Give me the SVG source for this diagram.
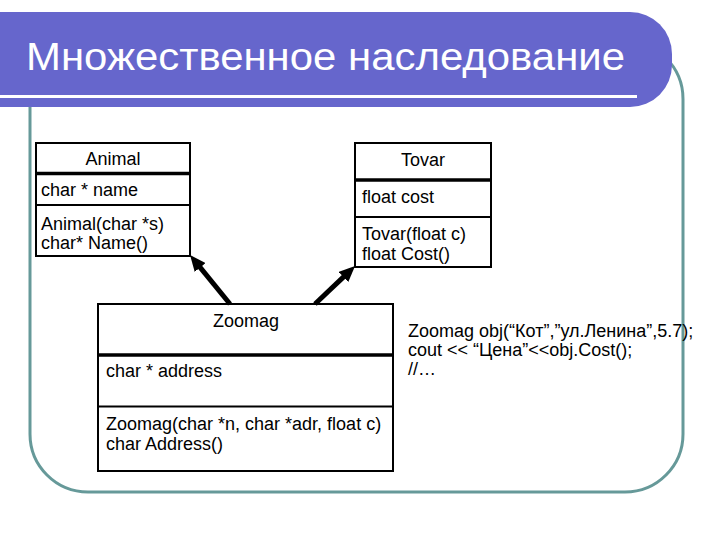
<svg xmlns="http://www.w3.org/2000/svg" width="720" height="540" viewBox="0 0 720 540">
<style>
.box{fill:#fff;stroke:#000;stroke-width:2}
.thin{stroke:#000;stroke-width:2}
.thick{stroke:#000;stroke-width:3.5}
.t{font-family:"Liberation Sans",Arial,sans-serif;font-size:18px;fill:#000}
.c{text-anchor:middle}
.code{font-family:"Liberation Sans",Arial,sans-serif;font-size:18px;fill:#000}
.conn{stroke:#000;stroke-width:5;fill:none;marker-end:url(#ah)}
</style>
<defs>
<marker id="ah" markerUnits="userSpaceOnUse" viewBox="0 0 16 14" markerWidth="16" markerHeight="14" refX="2" refY="7" orient="auto">
<path d="M0,0 L16,7 L0,14 Z" fill="#000"/>
</marker>
</defs>
<rect width="720" height="540" fill="#fff"/>
<g id="frame">
<rect x="30" y="41" width="653" height="451" rx="58" ry="58" fill="none" stroke="#669999" stroke-width="3"/>
</g>
<g id="banner">
<path d="M0,12 H630 A42,42 0 0 1 672,54 V65 A42,42 0 0 1 630,107 H0 Z" fill="#6666cc"/>
<rect x="0" y="95" width="637" height="3" fill="#fff"/>
<text x="26" y="70" font-family="'Liberation Sans',Arial,sans-serif" font-size="38" fill="#fff" textLength="599" lengthAdjust="spacingAndGlyphs">Множественное наследование</text>
</g>
<g id="animal">
<rect class="box" x="36" y="143" width="154" height="113"/>
<line class="thick" x1="36" y1="173.5" x2="190" y2="173.5"/>
<line class="thin" x1="36" y1="205" x2="190" y2="205"/>
<text class="t c" x="113" y="165">Animal</text>
<text class="t" x="41" y="196">char * name</text>
<text class="t" x="41" y="230">Animal(char *s)</text>
<text class="t" x="41" y="249">char* Name()</text>
</g>
<g id="tovar">
<rect class="box" x="355" y="143" width="136" height="124"/>
<line class="thick" x1="355" y1="180" x2="491" y2="180"/>
<line class="thin" x1="355" y1="217" x2="491" y2="217"/>
<text class="t c" x="423" y="166">Tovar</text>
<text class="t" x="362" y="203">float cost</text>
<text class="t" x="362" y="240">Tovar(float c)</text>
<text class="t" x="362" y="260">float Cost()</text>
</g>
<g id="zoomag">
<rect class="box" x="98" y="304" width="295" height="167"/>
<line class="thick" x1="98" y1="355" x2="393" y2="355"/>
<line class="thin" x1="98" y1="406.5" x2="393" y2="406.5"/>
<text class="t c" x="246" y="327">Zoomag</text>
<text class="t" x="106" y="377">char * address</text>
<text class="t" x="106" y="430">Zoomag(char *n, char *adr, float c)</text>
<text class="t" x="106" y="450">char Address()</text>
</g>
<g id="connectors">
<line class="conn" x1="230" y1="304" x2="198.9" y2="265.9"/>
<line class="conn" x1="315" y1="304" x2="344.9" y2="275.6"/>
</g>
<g id="code">
<text class="code" x="408" y="337">Zoomag obj(“Кот”,”ул.Ленина”,5.7);</text>
<text class="code" x="408" y="356">cout &lt;&lt; “Цена”&lt;&lt;obj.Cost();</text>
<text class="code" x="408" y="375">//…</text>
</g>
</svg>
